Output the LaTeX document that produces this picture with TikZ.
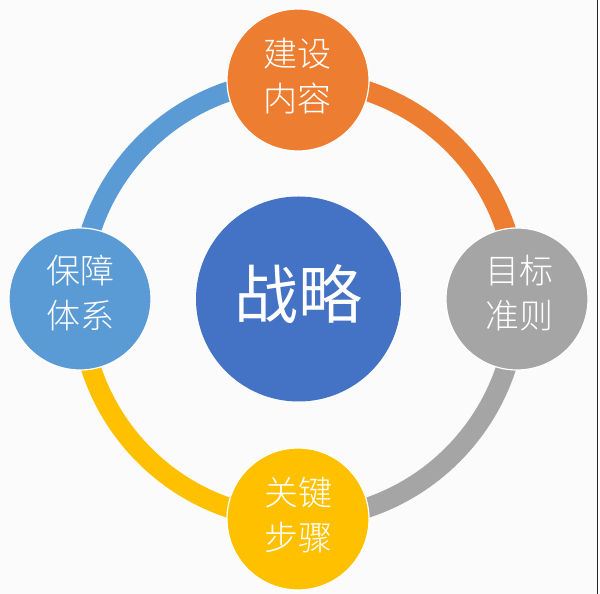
\documentclass[tikz,border=0pt]{standalone}
\usepackage{fontspec}
\newfontfamily\cjk{Noto Sans CJK SC Light}
\newfontfamily\cjkreg{Noto Sans CJK SC}
\usetikzlibrary{backgrounds}
\definecolor{cOrange}{HTML}{ED7D31}
\definecolor{cGray}{HTML}{A5A5A5}
\definecolor{cYellow}{HTML}{FFC000}
\definecolor{cBlue}{HTML}{5B9BD5}
\definecolor{cCenter}{HTML}{4472C4}
\definecolor{cBg}{HTML}{FBFBFB}
\tikzset{
  sat/.style={circle, minimum size=142pt, inner sep=0pt, draw=white, line width=1.2pt},
  core/.style={circle, minimum size=205pt, inner sep=0pt, fill=cCenter},
  lbl/.style={text=white, align=center, font=\cjk\fontsize{34}{45}\selectfont},
  ring/.style={line width=20pt}
}
\begin{document}
\begin{tikzpicture}[x=1pt,y=1pt]
\useasboundingbox (0,0) rectangle (600,594);
\node[core] (c) at (298.5,295) {};
\node[font=\cjkreg\fontsize{64}{70}\selectfont, text=white] (ct) at (298.5,300) {战略};
\node[sat, fill=cOrange] (top) at (298,514) {};
\node[sat, fill=cGray] (right) at (517,295) {};
\node[sat, fill=cYellow] (bottom) at (298,75) {};
\node[sat, fill=cBlue] (left) at (80,295) {};
\node[lbl] (tt) at (297.5,518) {建设\\内容};
\node[lbl] (rt) at (519,301) {目标\\准则};
\node[lbl] (bt) at (298,79) {关键\\步骤};
\node[lbl] (lt) at (80,301) {保障\\体系};
\begin{scope}[on background layer]
\fill[cBg] (0,0) rectangle (600,594);
\draw[black!85, line width=1.6pt] (597.6,0) -- (597.6,594);
\fill[white] (598.4,0) rectangle (600,594);
\draw[ring, cOrange] (top.center) to[out=0, in=90] (right.center);
\draw[ring, cGray] (right.center) to[out=-90, in=0] (bottom.center);
\draw[ring, cYellow] (bottom.center) to[out=180, in=-90] (left.center);
\draw[ring, cBlue] (left.center) to[out=90, in=180] (top.center);
\end{scope}
\end{tikzpicture}
\end{document}
